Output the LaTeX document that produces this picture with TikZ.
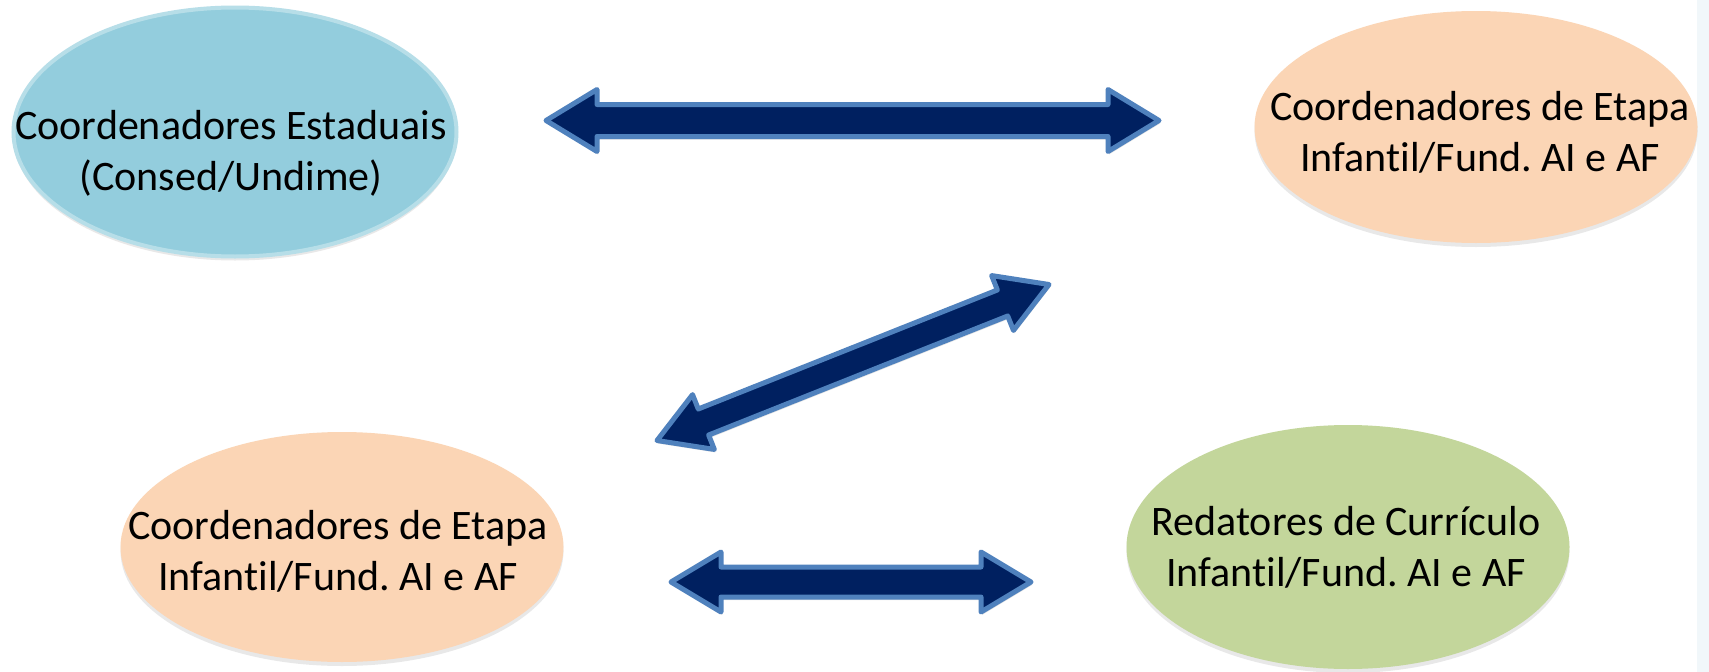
\documentclass[tikz,border=0pt]{standalone}
\usepackage{fontspec}
\setmainfont{Carlito}[Ligatures={NoCommon}]
\usetikzlibrary{calc,shadows,shapes.geometric}
\definecolor{eblue}{RGB}{147,205,221}
\definecolor{eblueb}{RGB}{183,222,232}
\definecolor{epeach}{RGB}{251,213,181}
\definecolor{egreen}{RGB}{195,214,155}
\definecolor{anavy}{RGB}{0,32,96}
\definecolor{aborder}{RGB}{79,129,189}
\definecolor{stripcol}{RGB}{241,247,250}
\newcommand\DArrow[5]{%
 \draw[arrowshape] (#1)
  -- ($(#1)!#5!(#2)!#4!90:(#2)$)
  -- ($(#1)!#5!(#2)!#3!90:(#2)$)
  -- ($(#2)!#5!(#1)!#3!-90:(#1)$)
  -- ($(#2)!#5!(#1)!#4!-90:(#1)$)
  -- (#2)
  -- ($(#2)!#5!(#1)!#4!90:(#1)$)
  -- ($(#2)!#5!(#1)!#3!90:(#1)$)
  -- ($(#1)!#5!(#2)!#3!-90:(#2)$)
  -- ($(#1)!#5!(#2)!#4!-90:(#2)$)
  -- cycle;}
\tikzset{
  ell/.style={ellipse, inner sep=0pt, minimum width=443pt,
    drop shadow={opacity=.18, shadow xshift=0pt, shadow yshift=-4pt}},
  lbl/.style={font=\fontsize{42}{51}\selectfont, align=center, inner sep=0pt, text=black},
  arrowshape/.style={fill=anavy, draw=aborder, line width=5pt, line join=round,
    drop shadow={opacity=.22, shadow xshift=1pt, shadow yshift=-3pt}}
}
\frenchspacing
\begin{document}
\begin{tikzpicture}[x=1pt,y=-1pt]
\useasboundingbox (0,0) rectangle (1709,672);
\fill[white] (0,0) rectangle (1709,672);
\fill[stripcol] (1697,0) rectangle (1709,672);

% ellipses
\node[ell, minimum height=249pt, fill=eblue, draw=eblueb, line width=4pt] (e1) at (235,132) {};
\node[ell, minimum height=232pt, fill=epeach] (e2) at (1476,127) {};
\node[ell, minimum height=230pt, fill=epeach] (e3) at (342,547) {};
\node[ell, minimum height=244pt, fill=egreen] (e4) at (1348,547) {};

% labels
\node[lbl] (t1) at (231,153) {Coordenadores Estaduais\\(Consed/Undime)};
\node[lbl] (t2) at (1480,132) {Coordenadores de Etapa\\Infantil/Fund. AI e AF};
\node[lbl] (t3) at (338,551) {Coordenadores de Etapa\\Infantil/Fund. AI e AF};
\node[lbl] (t4) at (1346,547) {Redatores de Currículo\\Infantil/Fund. AI e AF};

% arrow end points
\coordinate (a1s) at (546,120.5);
\coordinate (a1e) at (1159,120.5);
\coordinate (a2s) at (657,440.5);
\coordinate (a2e) at (1049,284.5);
\coordinate (a3s) at (671,582);
\coordinate (a3e) at (1031,582);

\DArrow{a1s}{a1e}{16pt}{31pt}{51pt}
\DArrow{a2s}{a2e}{14pt}{29.5pt}{50pt}
\DArrow{a3s}{a3e}{15pt}{30pt}{50pt}
\end{tikzpicture}
\end{document}
